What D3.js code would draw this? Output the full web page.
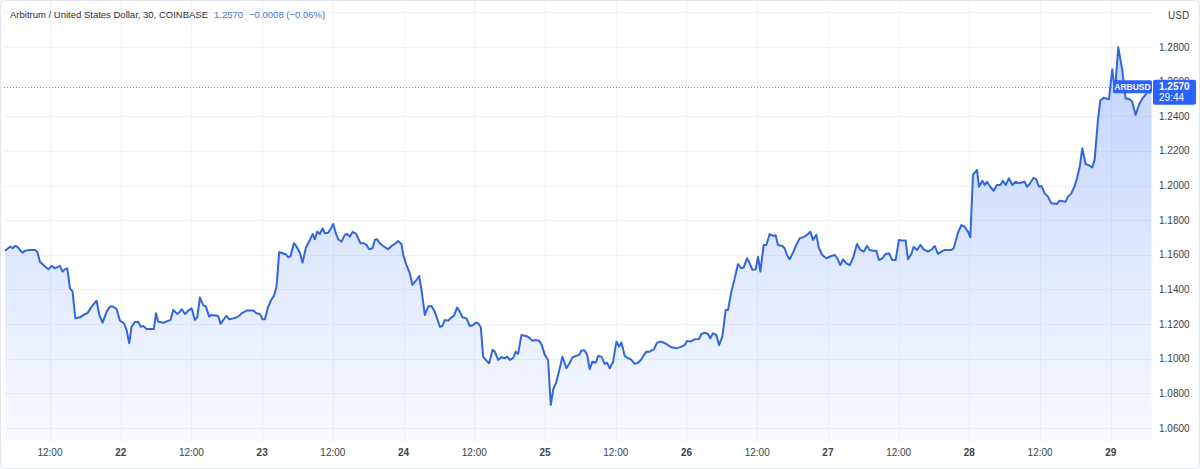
<!DOCTYPE html>
<html><head><meta charset="utf-8">
<script src="https://cdn.jsdelivr.net/npm/d3@7"></script>
<style>html,body{margin:0;padding:0;background:#fff;}svg{display:block;font-family:"Liberation Sans",Arial,sans-serif;}</style>
</head><body><svg id="chart" width="1200" height="469"></svg>
<script>
const symbolTitle = "Arbitrum / United States Dollar, 30, COINBASE";
const lastPriceText = "1.2570";
const changeText = "\u22120.0008 (\u22120.06%)";
const tickerLabel = "ARBUSD";
const countdownText = "29:44";
const currencyLabel = "USD";
const startDateUTC = Date.UTC(2023, 6, 21);
const hoursFromStart = [
4.37,5.22,5.67,6.06,6.46,6.91,7.36,7.76,8.61,9.46,9.85,10.30,10.87,11.71,12.28,12.85,13.70,14.15,14.54,14.94,
15.39,15.84,16.30,17.09,17.94,18.33,19.07,19.91,20.37,20.93,21.61,22.18,22.74,23.31,23.87,24.55,25.00,25.45,25.85,26.41,
26.98,27.38,27.83,28.39,29.64,29.98,30.37,31.22,32.47,32.92,33.60,34.05,34.33,34.95,35.46,36.03,36.59,36.99,37.44,38.00,
38.46,39.02,39.42,40.55,40.95,41.40,41.96,42.42,43.09,43.55,44.11,44.51,45.36,46.49,47.05,47.62,48.07,48.47,49.03,49.60,
49.99,50.44,50.90,51.46,52.03,52.42,52.82,53.38,53.84,54.40,54.85,55.42,56.10,56.55,56.95,57.34,57.79,58.25,58.64,59.21,
59.60,60.05,60.51,60.90,61.47,62.03,62.43,62.88,63.33,63.90,64.30,64.69,65.26,65.71,66.16,66.73,67.12,67.52,67.97,
68.53,69.38,69.95,70.51,71.08,71.64,71.93,72.49,73.06,73.51,74.19,74.64,75.04,75.60,76.17,76.73,77.30,78.15,78.60,78.99,
79.56,80.13,80.52,81.09,81.54,81.99,82.67,83.24,83.80,84.25,84.65,85.10,85.50,86.06,86.51,87.08,87.48,88.04,88.61,89.17,
89.57,90.02,90.58,91.04,91.43,92.00,92.56,93.13,93.86,94.43,94.99,95.45,95.96,96.52,96.97,97.37,97.93,98.50,98.95,99.63,
100.20,100.65,101.21,101.78,102.17,102.74,103.14,103.59,104.04,104.61,105.00,105.57,106.13,106.53,106.98,107.55,108.11,108.56,108.96,109.53,
110.09,110.66,111.22,111.79,112.35,112.80,113.20,113.76,114.50,115.01,115.74,116.59,117.44,118.29,119.14,119.70,120.10,120.66,121.40,122.13,
122.53,123.09,123.66,124.05,124.50,125.07,125.52,126.09,126.65,127.05,127.61,128.18,128.74,129.31,129.71,130.27,130.72,
131.18,131.74,132.14,132.53,133.10,133.55,134.12,134.68,135.13,135.53,136.26,136.66,137.05,137.50,138.07,138.64,139.20,140.05,140.61,141.01,
141.46,142.03,142.48,143.04,143.72,144.57,145.14,145.59,146.10,146.55,147.12,147.68,148.25,148.93,149.50,150.06,150.63,151.08,151.64,152.21,
152.66,153.23,153.79,154.36,154.92,155.49,156.05,156.73,157.19,157.58,158.15,158.54,159.11,159.68,160.24,160.98,161.54,162.11,162.67,163.24,
163.80,164.94,165.33,166.07,166.63,167.20,167.76,168.16,168.61,169.29,169.63,170.20,170.59,170.99,171.55,172.12,172.68,173.25,173.70,174.15,
174.72,175.28,175.85,176.41,177.38,177.77,178.22,178.90,179.35,179.81,180.26,180.77,181.33,181.90,182.86,183.31,184.33,184.73,185.29,185.86,
186.25,186.71,187.16,187.72,188.29,188.85,189.25,189.81,190.21,190.77,191.68,192.24,192.69,193.26,193.94,194.50,195.18,195.63,196.20,196.76,
197.30,197.90,198.30,198.60,198.90
];
const closePrices = [
1.1624,1.1647,1.1638,1.1651,1.1647,1.1628,1.1612,1.1624,1.1628,1.1628,1.1618,1.1560,1.1541,1.1516,1.1536,1.1522,1.1536,1.1503,1.1516,1.1522,
1.1407,1.1387,1.1234,1.1239,1.1258,1.1262,1.1301,1.1335,1.1253,1.1208,1.1272,1.1301,1.1301,1.1286,1.1220,1.1205,1.1166,1.1089,1.1185,1.1212,
1.1214,1.1185,1.1189,1.1172,1.1172,1.1262,1.1214,1.1208,1.1224,1.1282,1.1258,1.1272,1.1286,1.1258,1.1278,1.1291,1.1224,1.1239,1.1353,1.1310,
1.1301,1.1243,1.1253,1.1247,1.1201,1.1224,1.1247,1.1228,1.1233,1.1237,1.1247,1.1262,1.1278,1.1278,1.1262,1.1258,1.1228,1.1228,1.1301,1.1343,
1.1362,1.1416,1.1616,1.1609,1.1603,1.1586,1.1593,1.1667,1.1647,1.1612,1.1555,1.1641,1.1686,1.1720,1.1690,1.1734,1.1720,1.1753,1.1724,1.1728,
1.1747,1.1778,1.1724,1.1690,1.1676,1.1715,1.1720,1.1705,1.1732,1.1724,1.1695,1.1667,1.1667,1.1657,1.1632,1.1638,1.1686,1.1690,1.1667,
1.1651,1.1632,1.1651,1.1663,1.1680,1.1663,1.1599,1.1541,1.1493,1.1426,1.1455,1.1478,1.1397,1.1253,1.1301,1.1305,1.1272,1.1185,1.1189,1.1224,
1.1220,1.1239,1.1247,1.1295,1.1272,1.1239,1.1233,1.1189,1.1195,1.1208,1.1205,1.1182,1.1012,1.0989,1.0974,1.1051,1.1041,1.0993,1.1008,1.1003,
1.1012,1.0993,1.1003,1.1041,1.1028,1.1137,1.1133,1.1127,1.1104,1.1108,1.1104,1.1079,1.1022,1.0993,1.0733,1.0820,1.0868,1.0945,1.1012,1.0945,
1.0977,1.1008,1.1016,1.1022,1.1047,1.1047,1.1022,1.0939,1.0983,1.0977,1.1016,1.1012,1.0970,1.0977,1.0945,1.0983,1.1099,1.1070,1.1093,1.1016,
1.1003,1.0993,1.0970,1.0977,1.0997,1.1022,1.1041,1.1041,1.1055,1.1093,1.1099,1.1085,1.1066,1.1060,1.1070,1.1079,1.1103,1.1099,1.1112,1.1114,
1.1143,1.1150,1.1143,1.1118,1.1147,1.1137,1.1079,1.1127,1.1282,1.1282,1.1387,1.1464,1.1547,1.1522,1.1528,1.1580,1.1551,
1.1513,1.1516,1.1589,1.1503,1.1657,1.1657,1.1720,1.1709,1.1713,1.1657,1.1651,1.1638,1.1599,1.1574,1.1612,1.1657,1.1695,1.1705,1.1720,1.1734,
1.1686,1.1715,1.1638,1.1599,1.1580,1.1593,1.1599,1.1580,1.1541,1.1574,1.1551,1.1540,1.1580,1.1663,1.1628,1.1618,1.1651,1.1628,1.1624,1.1624,
1.1570,1.1580,1.1605,1.1609,1.1570,1.1570,1.1686,1.1682,1.1682,1.1574,1.1605,1.1647,1.1628,1.1657,1.1632,1.1618,1.1628,1.1651,1.1605,1.1618,
1.1628,1.1628,1.1638,1.1728,1.1772,1.1762,1.1734,1.1701,1.2061,1.2090,1.1993,1.2028,1.2003,1.2022,1.1993,1.1970,1.2003,1.2003,1.2028,1.2003,
1.2042,1.2003,1.2022,1.2013,1.2022,1.1993,1.2009,1.2045,1.2036,1.1993,1.1997,1.1955,1.1936,1.1898,1.1894,1.1913,1.1907,1.1936,1.1955,1.1997,
1.2042,1.2105,1.2215,1.2124,1.2117,1.2105,1.2148,1.2379,1.2490,1.2507,1.2498,1.2671,1.2542,1.2798,1.2667,1.2504,1.2498,1.2484,1.2407,1.2465,
1.2500,1.2525,1.2556,1.2536,1.2570
];
const yTickValues = [1.04,1.06,1.08,1.10,1.12,1.14,1.16,1.18,1.20,1.22,1.24,1.26,1.28,1.30];
const xTickHours = [12,24,36,48,60,72,84,96,108,120,132,144,156,168,180,192];

const W = 1200, H = 469;
const plot = {left: 4, right: 1152, top: 1, bottom: 441};
const hourMs = 3600 * 1000;
const toDate = h => new Date(startDateUTC + h * hourMs);
const data = hoursFromStart.map((h, i) => ({date: toDate(h), value: closePrices[i]}));

const svg = d3.select("#chart");
const x = d3.scaleUtc()
  .domain([data[0].date, data[data.length - 1].date])
  .range([5, 1151.5]);
const y = d3.scaleLinear().domain([1.06, 1.28]).range([428, 47]);

svg.append("rect").attr("x", 0.5).attr("y", 0.5).attr("width", W - 1).attr("height", H - 1)
  .attr("rx", 4).attr("fill", "#fff").attr("stroke", "#e3e6ec");

const defs = svg.append("defs");
defs.append("clipPath").attr("id", "plotClip").append("rect")
  .attr("x", plot.left).attr("y", plot.top).attr("width", plot.right - plot.left).attr("height", plot.bottom - plot.top);
const grad = defs.append("linearGradient").attr("id", "areaGrad")
  .attr("gradientUnits", "userSpaceOnUse").attr("x1", 0).attr("x2", 0)
  .attr("y1", y(d3.max(closePrices))).attr("y2", plot.bottom);
grad.append("stop").attr("offset", "0%").attr("stop-color", "#2962ff").attr("stop-opacity", 0.28);
grad.append("stop").attr("offset", "100%").attr("stop-color", "#2962ff").attr("stop-opacity", 0.03);

const g = svg.append("g").attr("clip-path", "url(#plotClip)");

g.selectAll(".hgrid").data(yTickValues).join("line")
  .attr("x1", plot.left).attr("x2", plot.right)
  .attr("y1", d => Math.round(y(d)) + 0.5).attr("y2", d => Math.round(y(d)) + 0.5)
  .attr("stroke", "#f0f3fa").attr("stroke-width", 1);
const xTicks = xTickHours.map(toDate);
g.selectAll(".vgrid").data(xTicks).join("line")
  .attr("y1", plot.top).attr("y2", plot.bottom)
  .attr("x1", d => Math.round(x(d)) + 0.5).attr("x2", d => Math.round(x(d)) + 0.5)
  .attr("stroke", "#f0f3fa").attr("stroke-width", 1);

const area = d3.area().x(d => x(d.date)).y0(plot.bottom).y1(d => y(d.value));
g.append("path").datum(data).attr("d", area).attr("fill", "url(#areaGrad)");
const line = d3.line().x(d => x(d.date)).y(d => y(d.value));
g.append("path").datum(data).attr("d", line).attr("fill", "none")
  .attr("stroke", "#3167dc").attr("stroke-width", 2).attr("stroke-linejoin", "round");

const lastV = closePrices[closePrices.length - 1];
svg.append("line").attr("x1", plot.left).attr("x2", 1113)
  .attr("y1", Math.round(y(lastV)) + 0.5).attr("y2", Math.round(y(lastV)) + 0.5)
  .attr("stroke", "#8a8d96").attr("stroke-width", 1).attr("stroke-dasharray", "1,2");

const axisColor = "#3c3f47";
svg.selectAll(".ylab").data(yTickValues.filter(v => y(v) > 30 && y(v) < 440)).join("text")
  .attr("x", 1159).attr("y", d => y(d)).attr("dy", "0.35em")
  .attr("font-size", 10).attr("fill", axisColor).text(d => d3.format(".4f")(d));
svg.append("text").attr("x", 1168).attr("y", 15).attr("dy", "0.35em")
  .attr("font-size", 10).attr("fill", axisColor).text(currencyLabel);

svg.selectAll(".xlab").data(xTicks).join("text")
  .attr("x", d => x(d)).attr("y", 452).attr("dy", "0.35em").attr("text-anchor", "middle")
  .attr("font-size", 10).attr("fill", axisColor)
  .attr("font-weight", d => d.getUTCHours() === 0 ? 600 : 400)
  .text(d => d.getUTCHours() === 0 ? d3.utcFormat("%-d")(d) : d3.utcFormat("%H:%M")(d));

const ly = y(lastV);
svg.append("rect").attr("x", 1113).attr("y", ly - 6.5).attr("width", 39).attr("height", 13)
  .attr("rx", 2).attr("fill", "#2962ff");
svg.append("text").attr("x", 1132.5).attr("y", ly).attr("dy", "0.35em").attr("text-anchor", "middle")
  .attr("font-size", 8.5).attr("font-weight", 700).attr("fill", "#fff").text(tickerLabel);
svg.append("rect").attr("x", 1153).attr("y", ly - 7).attr("width", 43).attr("height", 25)
  .attr("rx", 2).attr("fill", "#2962ff");
svg.append("text").attr("x", 1159).attr("y", ly).attr("dy", "0.35em")
  .attr("font-size", 10).attr("font-weight", 700).attr("fill", "#fff").text(lastPriceText);
svg.append("text").attr("x", 1159).attr("y", ly + 11).attr("dy", "0.35em")
  .attr("font-size", 10).attr("fill", "#fff").text(countdownText);

const title = svg.append("text").attr("x", 10).attr("y", 15).attr("dy", "0.35em").attr("font-size", 9.5);
title.append("tspan").attr("fill", "#2a2e39").text(symbolTitle);
title.append("tspan").attr("dx", 6).attr("fill", "#4a72d6").text(lastPriceText);
title.append("tspan").attr("dx", 6).attr("fill", "#4a72d6").text(changeText);
</script></body></html>
